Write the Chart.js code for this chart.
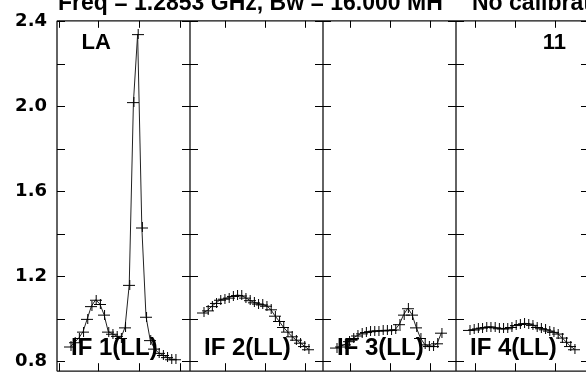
<!DOCTYPE html>
<html><head><meta charset="utf-8">
<script src="https://cdn.jsdelivr.net/npm/chart.js@4.4.1/dist/chart.umd.min.js"></script>
<style>
html,body{margin:0;padding:0;background:#fff;overflow:hidden;width:586px;height:383px;}
#wrap{position:relative;width:600px;height:392px;}
canvas{display:block}
</style></head><body>
<div id="wrap"><canvas id="c" width="600" height="392"></canvas></div>
<script>
// ---- data ----
const channels = [0,1,2,3,4,5,6,7,8,9,10,11,12,13,14,15,16,17,18,19,20,21,22,23,24,25];
const if1 = [0.87,0.89,0.91,0.94,1.00,1.06,1.09,1.07,1.02,0.94,0.93,0.92,0.91,0.96,1.16,2.02,2.34,1.43,1.01,0.90,0.86,0.84,0.83,0.82,0.81,0.81];
const if2 = [1.03,1.04,1.06,1.075,1.09,1.095,1.10,1.108,1.112,1.11,1.10,1.088,1.078,1.072,1.068,1.062,1.045,1.015,0.99,0.962,0.94,0.918,0.902,0.888,0.872,0.857];
const if3 = [0.865,0.87,0.88,0.895,0.91,0.922,0.932,0.938,0.942,0.944,0.945,0.946,0.947,0.948,0.95,0.975,1.02,1.05,1.02,0.96,0.91,0.88,0.872,0.872,0.885,0.935];
const if4 = [0.948,0.95,0.955,0.959,0.962,0.964,0.96,0.956,0.955,0.956,0.962,0.971,0.976,0.979,0.978,0.972,0.962,0.956,0.951,0.945,0.939,0.931,0.912,0.892,0.872,0.857];
const panelLabels = ['IF 1(LL)','IF 2(LL)','IF 3(LL)','IF 4(LL)'];
const xTicks1 = [-2.84, 6.68, 16.44, 25.97];
const xTicks2 = [5.13, 14.66, 24.18];
const xTicks3 = [3.23, 12.75, 22.28];
const xTicks4 = [1.32, 10.85, 20.37];
const yTicks = [0.8,1.0,1.2,1.4,1.6,1.8,2.0,2.2,2.4];
const yLabels = [0.8,1.2,1.6,2.0,2.4];
const titleText = 'Freq = 1.2853 GHz, Bw = 16.000 MH';
const titleText2 = 'No calibration';
const sourceLabel = 'LA';
const pageLabel = '11';

const series = [if1, if2, if3, if4];
const xTicks = [xTicks1, xTicks2, xTicks3, xTicks4];
const FONT = '"Liberation Sans", Arial, sans-serif';
const TICKFONT = '"DejaVu Sans", "Liberation Sans", sans-serif';

// cross marker
const cross = document.createElement('canvas');
cross.width = 12; cross.height = 10;
(function(){
  const g = cross.getContext('2d');
  g.strokeStyle = '#000'; g.lineWidth = 1;
  g.beginPath(); g.moveTo(0,5.5); g.lineTo(12,5.5); g.moveTo(6.5,0); g.lineTo(6.5,10); g.stroke();
})();

const scales = {
  y: {
    type:'linear', position:'left', min:0.7537, max:2.4027,
    afterBuildTicks: s => { s.ticks = yTicks.map(v => ({value:v})); },
    afterFit: s => { s.width = 57; },
    grid:{display:false, drawTicks:false}, border:{display:false},
    ticks:{ padding:10, color:'#000', font:{family:TICKFONT, size:18, weight:'bold'},
      callback: v => yLabels.some(l => Math.abs(l - v) < 1e-6) ? Number(v).toFixed(1) : '' }
  }
};
series.forEach((_, k) => {
  scales['x'+k] = {
    type:'linear', position:'bottom', stack:'panels', stackWeight:1,
    min:-3.2, max:28.47,
    afterBuildTicks: s => { s.ticks = xTicks[k].map(v => ({value:v})); },
    grid:{display:false, drawTicks:false}, border:{display:false},
    ticks:{display:false}
  };
});

const framePlugin = {
  id:'frame',
  beforeDatasetsDraw(chart){
    const ctx = chart.ctx, ca = chart.chartArea, ys = chart.scales.y;
    ctx.save();
    ctx.strokeStyle = '#111'; ctx.lineWidth = 1.3;
    ctx.beginPath();
    ctx.moveTo(ca.left, ca.top); ctx.lineTo(ca.right, ca.top);
    ctx.moveTo(ca.left, ca.bottom); ctx.lineTo(ca.right, ca.bottom);
    series.forEach((_, k) => {
      const s = chart.scales['x'+k];
      ctx.moveTo(s.left, ca.top); ctx.lineTo(s.left, ca.bottom);
      ctx.moveTo(s.right, ca.top); ctx.lineTo(s.right, ca.bottom);
    });
    ctx.stroke();
    ctx.lineWidth = 1; ctx.strokeStyle = '#000';
    ctx.beginPath();
    series.forEach((_, k) => {
      const s = chart.scales['x'+k];
      ys.ticks.forEach(t => {
        const py = Math.round(ys.getPixelForValue(t.value)) + 0.5;
        ctx.moveTo(s.left, py); ctx.lineTo(s.left + 8, py);
        ctx.moveTo(s.right - 8, py); ctx.lineTo(s.right, py);
      });
      s.ticks.forEach(t => {
        const px = Math.round(s.getPixelForValue(t.value)) + 0.5;
        ctx.moveTo(px, ca.top); ctx.lineTo(px, ca.top + 7);
        ctx.moveTo(px, ca.bottom - 8); ctx.lineTo(px, ca.bottom);
      });
    });
    ctx.stroke();
    ctx.restore();
  },
  afterDatasetsDraw(chart){
    const ctx = chart.ctx, ca = chart.chartArea;
    ctx.save();
    ctx.fillStyle = '#000';
    ctx.textBaseline = 'alphabetic';
    ctx.font = 'bold 23px ' + FONT;
    ctx.textAlign = 'left';
    ctx.fillText(titleText, ca.left + 1, 10);
    ctx.fillText(titleText2, 472, 10);
    ctx.font = 'bold 22px ' + FONT;
    ctx.fillText(sourceLabel, ca.left + 24.5, 49);
    ctx.textAlign = 'right';
    ctx.fillText(pageLabel, ca.right - 23, 49);
    ctx.textAlign = 'left';
    ctx.font = 'bold 24px ' + FONT;
    series.forEach((_, k) => {
      const s = chart.scales['x'+k];
      ctx.fillText(panelLabels[k], s.left + 14, ca.bottom - 16);
    });
    ctx.restore();
  }
};

new Chart(document.getElementById('c'), {
  type:'line',
  data:{ datasets: series.map((vals, k) => ({
    label: panelLabels[k],
    xAxisID:'x'+k, yAxisID:'y',
    data: channels.map((c, i) => ({x:c, y:vals[i]})),
    borderColor:'#222', borderWidth:1, tension:0, fill:false,
    pointStyle: cross, pointRadius:5, pointHoverRadius:5
  }))},
  options:{
    responsive:false, animation:false, devicePixelRatio:1,
    layout:{padding:{left:0, top:16, right:11, bottom:9}},
    plugins:{legend:{display:false}, tooltip:{enabled:false}, title:{display:false}},
    scales
  },
  plugins:[framePlugin]
});
</script>
</body></html>
